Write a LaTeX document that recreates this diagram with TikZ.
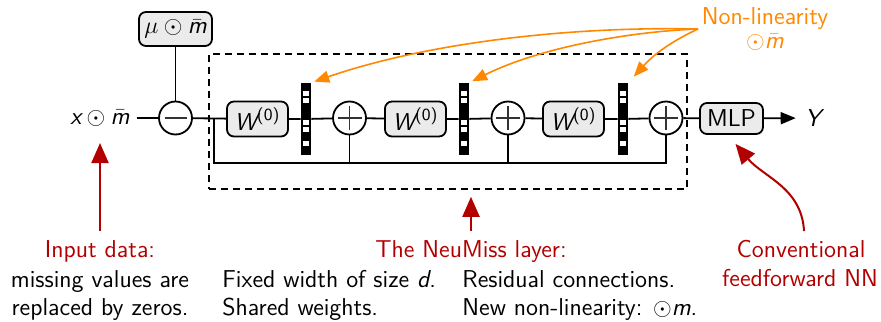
\documentclass[tikz,border=0pt]{standalone}
\usepackage{amsmath}
\usetikzlibrary{arrows.meta}
\renewcommand{\familydefault}{\sfdefault}
\definecolor{nmred}{RGB}{178,0,0}
\definecolor{nmorange}{RGB}{255,136,0}
\definecolor{boxgray}{RGB}{235,235,235}
% sans italic variables
\newcommand{\sv}[1]{\text{\sffamily\itshape #1}}
% white cells of an activation bar placed at node #1
\newcommand{\barcells}[1]{%
  \begin{scope}[shift={(#1.north)}]
    \foreach \i in {1,2,5,6,8}
      \fill[white] (-3.2,{(\i+0.5)*7.2-2.5}) rectangle (3.2,{(\i+0.5)*7.2+2.5});
  \end{scope}}
\begin{document}
\begin{tikzpicture}[x=0.5pt,y=-0.5pt,
  font=\fontsize{12.2}{14.3}\selectfont,
  wire/.style={line width=0.9pt},
  opbox/.style={draw, line width=0.9pt, fill=boxgray, rounded corners=3.5pt, inner sep=0pt},
  opcirc/.style={draw, circle, line width=0.9pt, fill=white, minimum size=16.5pt, inner sep=0pt},
  sign/.style={line width=0.6pt, black!80},
  actbar/.style={fill=black, minimum width=5pt, minimum height=36pt, inner sep=0pt},
  nlarrow/.style={nmorange, line width=0.8pt, -{Triangle[length=7.5pt,width=6pt]}},
  redarrow/.style={nmred, line width=1pt, -{Triangle[length=10pt,width=8.5pt]}},
  redtitle/.style={text=nmred, anchor=base, inner sep=0pt},
  centerline/.style={anchor=base, inner sep=0pt},
  note/.style={anchor=base west, inner sep=0pt}]
\useasboundingbox (0,0) rectangle (881,321);

% input and mean subtraction
\node (xin) at (100,118) {$\sv{x}\odot\bar{\sv{m}}$};
\node[opbox, minimum width=36.5pt, minimum height=17pt] (mu) at (175.5,29) {$\mu\odot\bar{\sv{m}}$};
\node[opcirc] (minus) at (175.5,118) {};

% NeuMiss layer
\node[draw, dashed, dash pattern=on 3.5pt off 2.5pt, line width=0.8pt,
      minimum width=239pt, minimum height=67.5pt, inner sep=0pt] (layer) at (448,121.5) {};
\node[opbox, minimum width=30.5pt, minimum height=17.5pt] (w1) at (257.5,119) {$\sv{W}^{\text{(0)}}$};
\node[opbox, minimum width=30.5pt, minimum height=17.5pt] (w2) at (415.5,119) {$\sv{W}^{\text{(0)}}$};
\node[opbox, minimum width=30.5pt, minimum height=17.5pt] (w3) at (573.5,119) {$\sv{W}^{\text{(0)}}$};
\node[actbar] (bar1) at (306,119) {};
\node[actbar] (bar2) at (464,119) {};
\node[actbar] (bar3) at (623,119) {};
\node[opcirc] (p1) at (349.5,118) {};
\node[opcirc] (p2) at (508,118) {};
\node[opcirc] (p3) at (666,118) {};

% output
\node[opbox, minimum width=31.5pt, minimum height=15.5pt] (mlp) at (731.5,118.5) {MLP};
\node[inner sep=4.5pt] (yout) at (813,118) {\sv{Y}};

% main signal path
\draw[wire] (xin) -- (minus);
\draw[wire] (mu) -- (minus);
\draw[wire] (minus) -- (w1) -- (bar1) -- (p1) -- (w2) -- (bar2) -- (p2)
             -- (w3) -- (bar3) -- (p3) -- (mlp);
\draw[wire, -{Triangle[length=7.5pt,width=6pt]}] (mlp) -- (yout);

% residual connections
\coordinate (rs) at (214,118);
\coordinate (rb) at (214,163);
\draw[wire] (rs) -- (rb) -| (p3.south);
\draw[wire] (p1.south) -- (p1 |- rb);
\draw[wire] (p2.south) -- (p2 |- rb);

% operator signs
\draw[sign] ([xshift=-5.5pt]minus.center) -- ([xshift=5.5pt]minus.center);
\foreach \p in {p1,p2,p3} {
  \draw[sign] ([xshift=-6pt]\p.center) -- ([xshift=6pt]\p.center);
  \draw[sign] ([yshift=-6pt]\p.center) -- ([yshift=6pt]\p.center);
}
\barcells{bar1}
\barcells{bar2}
\barcells{bar3}

% non-linearity annotation
\node[centerline, text=nmorange] (nl) at (765,25) {Non-linearity};
\node[centerline, text=nmorange] (nlm) at (765,48) {$\odot\bar{\sv{m}}$};
\coordinate (nlsrc) at (698,29);
\draw[nlarrow, shorten >=1.5pt] (nlsrc) .. controls (560,26) and (420,45) .. (bar1.north east);
\draw[nlarrow, shorten >=1.5pt] (nlsrc) .. controls (640,31) and (545,45) .. (bar2.north east);
\draw[nlarrow, shorten >=4pt] (nlsrc) to[out=205, in=48] (bar3.north east);

% captions
\node[redtitle] (intitle) at (100,257) {Input data:};
\node[centerline] (intext1) at (100,287) {missing values are};
\node[centerline] (intext2) at (100,315) {replaced by zeros.};
\node[redtitle] (nmtitle) at (471,257) {The NeuMiss layer:};
\node[note] (fixw) at (222,287) {Fixed width of size \sv{d}.};
\node[note] (shw) at (222,315) {Shared weights.};
\node[note] (resc) at (462,287) {Residual connections.};
\node[note] (newnl) at (462,315) {New non-linearity: $\odot$\sv{m}.};
\node[redtitle] (convtitle) at (801,257) {Conventional};
\node[redtitle] (convtitle2) at (800,286) {feedforward NN};

% caption arrows
\coordinate (inbot) at (100,231);
\coordinate (nmbot) at (471,231);
\coordinate (convbot) at (804,231);
\draw[redarrow] (inbot) -- (xin.south |- 0,143);
\draw[redarrow] (nmbot) -- (nmbot |- layer.south) [shorten >=3.5pt];
\draw[redarrow] (convbot) to[out=93, in=-50] ([xshift=2pt,yshift=-4.5pt]mlp.south);
\end{tikzpicture}
\end{document}
